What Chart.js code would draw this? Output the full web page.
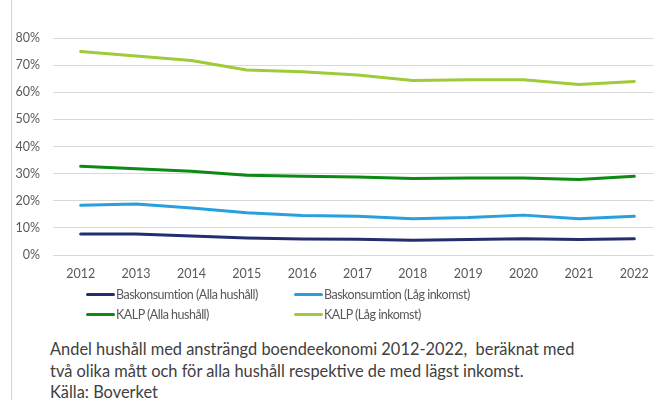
<!DOCTYPE html>
<html>
<head>
<meta charset="utf-8">
<script src="https://cdn.jsdelivr.net/npm/chart.js@4"></script>
<style>
    html, body { margin: 0; padding: 0; background: #fff; overflow: hidden; }
    body { width: 654px; height: 400px; position: relative; font-family: Lato, sans-serif; }
    .frame { position: absolute; left: 11px; top: 0; width: 1px; height: 400px; background: #d4d4d4; }
    .chart-box { position: absolute; left: 0; top: 0; width: 662px; height: 292px; }
    .legend { position: absolute; left: 0; top: 287px; width: 654px; height: 40px; }
    .legend-item { position: absolute; display: flex; align-items: center; font-size: 12.5px; letter-spacing: -0.5px; color: #595959; white-space: nowrap; }
    .legend-item span.swatch { display: inline-block; width: 29px; height: 3px; margin-right: 1px; border-radius: 2px; }
    .caption { position: absolute; left: 50px; top: 338px; font-size: 16.4px; line-height: 21.5px; color: #404040; white-space: nowrap; }
</style>
</head>
<body>
<div class="frame"></div>
<div class="chart-box"><canvas id="boendeChart"></canvas></div>
<div class="legend" id="legend"></div>
<div class="caption">
    Andel hushåll med ansträngd boendeekonomi 2012-2022,&nbsp; beräknat med<br>
    två olika mått och för alla hushåll respektive de med lägst inkomst.<br>
    Källa: Boverket
</div>
<script>
// Data (percent)
const years = ['2012', '2013', '2014', '2015', '2016', '2017', '2018', '2019', '2020', '2021', '2022'];
const baskAlla = [7.7, 7.7, 7.0, 6.3, 5.9, 5.8, 5.4, 5.7, 6.0, 5.7, 6.0];
const baskLag = [18.3, 18.8, 17.3, 15.6, 14.6, 14.3, 13.4, 13.8, 14.7, 13.4, 14.3];
const kalpAlla = [32.7, 31.8, 30.9, 29.4, 29.0, 28.8, 28.2, 28.4, 28.4, 27.8, 29.0];
const kalpLag = [75.0, 73.4, 71.7, 68.2, 67.6, 66.4, 64.3, 64.6, 64.6, 62.9, 64.0];
const seriesLabels = ['Baskonsumtion (Alla hushåll)', 'Baskonsumtion (Låg inkomst)', 'KALP (Alla hushåll)', 'KALP (Låg inkomst)'];
const yTicks = [0, 10, 20, 30, 40, 50, 60, 70, 80];

const colors = ['#232e6e', '#27a0dd', '#0d8a13', '#9ecb3a'];
const allSeries = [baskAlla, baskLag, kalpAlla, kalpLag];

document.addEventListener('DOMContentLoaded', function() {
    createChart();
    buildLegend();
});

function createChart() {
    const ctx = document.getElementById('boendeChart').getContext('2d');

    new Chart(ctx, {
        type: 'line',
        data: {
            labels: years,
            datasets: allSeries.map((values, i) => ({
                label: seriesLabels[i],
                data: values,
                borderColor: colors[i],
                backgroundColor: colors[i],
                borderWidth: 3,
                pointRadius: 0,
                tension: 0,
                borderCapStyle: 'round',
                borderJoinStyle: 'round',
                fill: false
            }))
        },
        options: {
            responsive: true,
            maintainAspectRatio: false,
            animation: false,
            layout: {
                padding: { top: 38, left: 0, right: 0, bottom: 0 }
            },
            plugins: {
                legend: { display: false },
                tooltip: { enabled: false }
            },
            scales: {
                x: {
                    offset: true,
                    grid: { display: false, drawTicks: false },
                    border: { display: false },
                    ticks: {
                        padding: 11,
                        color: '#595959',
                        font: { family: 'Lato', size: 12.5 },
                        maxRotation: 0
                    }
                },
                y: {
                    min: 0,
                    max: 80,
                    afterFit: function(axis) { axis.width = 53; },
                    afterBuildTicks: function(axis) {
                        axis.ticks = yTicks.map(v => ({ value: v }));
                    },
                    grid: { color: '#d9d9d9', lineWidth: 1, drawTicks: false },
                    border: { display: false },
                    ticks: {
                        padding: 13,
                        color: '#595959',
                        font: { family: 'Lato', size: 12.5 },
                        callback: v => v + '%'
                    }
                }
            }
        }
    });
}

function buildLegend() {
    const legend = document.getElementById('legend');
    const spots = [[86, 0], [294, 0], [86, 20], [294, 20]];
    seriesLabels.forEach((name, i) => {
        const item = document.createElement('div');
        item.className = 'legend-item';
        item.style.left = spots[i][0] + 'px';
        item.style.top = spots[i][1] + 'px';
        item.innerHTML = '<span class="swatch" style="background:' + colors[i] + '"></span>' + name;
        legend.appendChild(item);
    });
}
</script>
</body>
</html>
